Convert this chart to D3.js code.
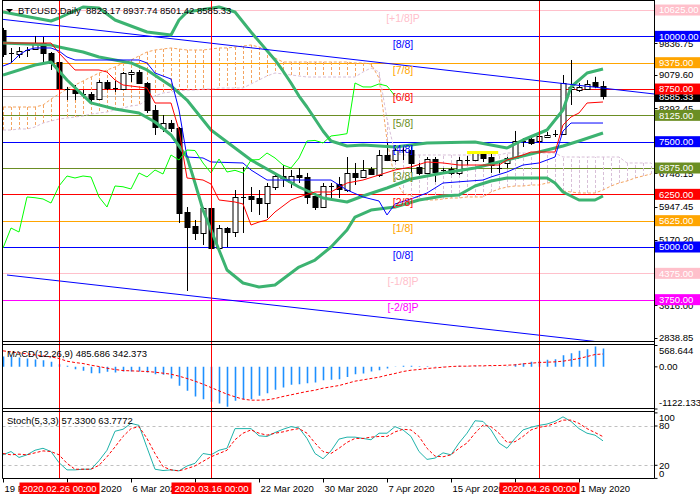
<!DOCTYPE html>
<html><head><meta charset="utf-8">
<script src="https://cdn.jsdelivr.net/npm/d3@7"></script>
<style>
body{margin:0;background:#fff}
svg{display:block}
text{font-family:"Liberation Sans",Arial,sans-serif}
</style>
</head><body>
<svg id="c" width="700" height="500"></svg>
<script>
// ---------------- DATA ----------------
const dateTickIdx = [0,8,16,24,32,40,48,56,64,72];
// labels hidden under the marker boxes in the reference are left empty
const dateTickLabels = ["19 Feb 2020","27 Feb 2020","6 Mar 2020","","22 Mar 2020","30 Mar 2020","7 Apr 2020","15 Apr 2020","","1 May 2020"];
const markerIdx = [7,26,67];
const markerLabels = ["2020.02.26 00:00","2020.03.16 00:00","2020.04.26 00:00"];

const opens = [10151,9605,9581,9665,9700,9842,9605,9391,8760,8727, 8645,8632,8513,8917,8774,8750,9107,9154,8893,8252, 7825,7943,7825,5831,5498,5332,5926,4976,5451,5356, 6187,6211,6163,6044,6424,6685,6543,6709,6662,6211, 5949,6448,6495,6353,6757,6662,6851,6709,7184,7065, 7302,7302,6899,6757,7089,6830,6851,6757,7065,7065, 7208,7136,6890,6994,7113,7516,7564,7516,7611,7682, 7682,8760,8727,8750,8917,8823.17];
const highs = [10200,9724,9747,9747,10009,9985,9629,9439,8800,8845, 8727,8679,8964,8964,8940,9154,9202,9202,8917,8371, 8133,8015,7848,5949,5641,5949,5949,5522,5475,6353, 6899,6424,6353,6519,6757,6946,6828,6875,6757,6282, 6519,6519,6662,7136,6994,7065,6899,7302,7469,7421, 7421,7421,6994,7136,7136,6875,6899,7136,7160,7279, 7231,7208,6994,7136,7754,7587,7659,7706,7730,7777, 9083,9439,8893,8960,9040,8937.74];
const lows = [9510,9368,9486,9510,9676,9391,9202,8750,8489,8489, 8537,8418,8489,8727,8679,8727,8917,8870,8181,7659, 7730,7730,5570,3956,5166,5047,4930,4858,5000,5237, 5332,5831,5760,5688,6353,6424,6400,6519,6021,5878, 5926,6163,6163,6306,6472,6640,6709,6662,7040,7018, 7065,6757,6709,6740,6543,6757,6709,6709,6946,7040, 7018,6757,6757,6875,7089,7374,7421,7490,7587,7611, 7659,8371,8680,8740,8770,8501.42];
const closes = [9581,9590,9653,9676,9842,9605,9368,8774,8745,8656, 8632,8513,8917,8774,8760,9130,9154,8893,8252,7848, 7943,7825,5807,5475,5332,5926,4976,5451,5356,6187, 6170,6140,6044,6448,6685,6638,6685,6662,6187,5949, 6448,6430,6377,6757,6662,6828,6733,7184,7065,7302, 7290,6994,6757,7089,6780,6820,6757,7065,7075,7231, 7113,6946,6875,7113,7516,7530,7469,7635,7659,7690, 8893,8800,8798,8870,8822,8585.33];

// Bollinger bands [bar, price]
const bbUpper = [[0,10578],[2,10507],[6,10365],[7,10436],[10,10697],[12,10673],[14,10388],[17,10175],[18,10103],[21,10032],[22,10388],[23,10578],[27,10697],[29,10578],[31,10103],[34,9439],[35,9178],[36,8893],[37,8584],[38,8323],[39,8038],[40,7754],[41,7516],[43,7397],[45,7421],[49,7374],[53,7469],[59,7492],[63,7350],[65,7540],[68,7777],[70,8252],[71,8798],[73,9130],[75,9225]];
const bbMiddle = [[0,9842],[6,9795],[7,9747],[10,9629],[12,9510],[16,9368],[18,9202],[21,8822],[23,8489],[26,7777],[28,7492],[31,7065],[37,6424],[40,6163],[43,6068],[45,6211],[48,6400],[51,6614],[55,6757],[59,6875],[63,7065],[67,7255],[70,7397],[72,7516],[75,7706]];
const bbLower = [[0,9083],[4,9320],[6,9391],[8,8964],[11,8420],[14,8276],[17,8181],[19,7967],[21,7659],[23,7136],[24,6519],[25,5878],[27,4929],[28,4454],[30,4145],[32,4051],[34,4098],[37,4525],[39,4691],[41,5000],[43,5404],[44,5712],[46,5878],[49,5949],[52,6116],[55,6211],[57,6234],[59,6448],[61,6567],[63,6638],[68,6638],[69,6519],[70,6306],[72,6116],[74,6116],[75,6211]];

// Ichimoku [bar, price]
const tenkan = [[0,9842],[6,9842],[7,9605],[9,9202],[12,9202],[13,9154],[14,8964],[15,8845],[18,8774],[19,8418],[21,8418],[22,7777],[23,6638],[25,6590],[26,6495],[27,6116],[29,6068],[30,6021],[31,5522],[32,5593],[33,5641],[34,5831],[35,5973],[36,6116],[37,6187],[39,6306],[41,6306],[43,6519],[45,6590],[47,6709],[49,6828],[51,6899],[53,7018],[55,6994],[57,6946],[62,6946],[63,7065],[65,7184],[66,7255],[69,7255],[70,7896],[71,8086],[72,8181],[73,8418],[75,8442]];
const kijun = [[0,9296],[1,9368],[2,9558],[3,9676],[4,9724],[6,9724],[7,9653],[8,9510],[9,9439],[17,9439],[18,9368],[19,9130],[21,8988],[22,8252],[23,7136],[25,7113],[26,7018],[30,6994],[31,6828],[33,6590],[41,6590],[43,6353],[45,6187],[47,6092],[48,5760],[49,6021],[51,6140],[53,6282],[55,6519],[60,6590],[61,6662],[63,6780],[65,6946],[67,6994],[68,7065],[69,7136],[70,7754],[71,7943],[75,7943]];
const chikouShift = 26;
// Senkou spans per bar (bars 0..81, cloud projected ahead)
const senkouA = [8323,8323,8323,8323,8323,8370,8510,8632,8750,8845, 8940,9035,9130,9200,9273,9368,9439,9534,9629,9676, 9700,9724,9700,9676,9676,9676,9700,9724,9724,9747, 9771,9795,9747,9676,9486,9391,9391,9391,9391,9391, 9391,9391,9391,9391,9368,9368,9344,9012,7540,6590, 6282,6211,6163,6116,6116,6140,6163,6163,6187,6187, 6187,6306,6377,6424,6448,6448,6472,6472,6519,6543, 6329,6306,6282,6282,6282,6353,6448,6519,6567,6638, 6685,6733];
const senkouB = [7777,7777,7801,7801,7848,7943,7991,8038,8062,8086, 8110,8157,8181,8204,8252,8299,8347,8371,8489,8584, 8656,8679,8703,8727,8727,8750,8750,8774,8774,8774, 8774,8869,8964,9059,9130,9107,9083,9059,9035,9035, 9035,9035,9035,9035,9035,9154,9249,9154,8038,7231, 7184,7184,7184,7184,7184,7184,7184,7184,7184,7184, 7184,7184,7184,7231,7231,7231,7231,7231,7231,7231, 7136,7136,7136,7136,7136,7136,7136,7136,6994,6994, 6994,6994];

// Murrey Math levels
const mmPrices = [10625,10000,9375,8750,8125,7500,6875,6250,5625,5000,4375,3750];
const mmNames = ["[+1/8]P","[8/8]","[7/8]","[6/8]","[5/8]","[4/8]","[3/8]","[2/8]","[1/8]","[0/8]","[-1/8]P","[-2/8]P"];

// trend lines [bar, price]
const trendUpper = [[-0.4,10412],[81.4,8632]];
const trendLower = [[0.5,4335],[74,2757]];
const yellowSeg = [[58,7243],[61.9,7243]];

const priceTicks = [9836.75, 9079.60, 8292.45, 6748.15, 5947.45, 5170.20, 3616.00, 2838.85];
const lastPrice = 8585.33;
const header = "BTCUSD,Daily  8823.17 8937.74 8501.42 8585.33";

// MACD
const macdMain = [275,275,248,222,195,177,133,70,27,-62, -106,-168,-168,-133,-150,-124,-124,-124,-150,-195, -213,-310,-505,-638,-789,-860,-930,-976,-1060,-905, -860,-860,-772,-700,-612,-550,-479,-461,-435,-417, -355,-346,-328,-270,-195,-177,-124,-89,-44,-5, 27,27,18,18,9,9,5,27,9,18, 9,-5,0,9,72,98,133,160,186,205, 311,364,426,470,540,485.686];
const macdSignal = [426,399,373,346,319,293,266,222,151,115, 89,44,9,-35,-71,-98,-106,-115,-124,-142, -169,-195,-248,-310,-381,-461,-550,-639,-727,-798, -860,-887,-887,-878,-843,-789,-745,-700,-656,-621, -568,-532,-497,-440,-381,-346,-310,-275,-222,-177, -124,-89,-71,-44,-27,-9,9,18,18,27, 27,35,35,44,53,80,98,115,124,133, 151,186,222,275,328,342.373];
const macdRange = [-1122.133, 568.644];
const macdTicks = [568.644, 0, -1122.133];
const macdTickLabels = ["568.644","0.00","-1122.133"];
const macdTitle = "MACD(12,26,9) 485.686 342.373";

// Stochastic
const stochMain = [36,41,32,36,43,46,41,24,13,13, 14,14,27,43,72,75,84,81,47,14, 12,13,11.5,19,23,38,36,43,46,76, 76,76,65,64,70,75,79,77,61,38, 30,42,60,63,63,61,59,69,69,79, 74,64,41,29,31,39,36,54,69,88, 87,74,54,46,61,74,78,81,83,87, 94,87,76,69,66,57.33];
const stochSignal = [38,36,37,36,39,42,41,36,23,14, 14,14,20,33,48,64,76,79,61,38, 18,13,11.5,15,19,26,33,38,43,59, 69,74,69,66,69,71,74,76,69,54, 41,38,46,55,61,61,63,64,64,71, 75,74,64,46,34,33,36,46,54,69, 81.5,79,69,55,56,64,74,78,80,84, 89,89,84,76,70,63.7772];
const stochLevels = [80,20];
const stochTicks = [100,80,20,0];
const stochTitle = "Stoch(5,3,3) 57.3300 63.7772";

// ---------------- STYLES ----------------
const mmColor = {"[+1/8]P":"#FFC0CB","[8/8]":"#0000FF","[7/8]":"#FFA500","[6/8]":"#FF0000","[5/8]":"#6B8E23","[4/8]":"#0000FF","[3/8]":"#6B8E23","[2/8]":"#FF0000","[1/8]":"#FFA500","[0/8]":"#0000FF","[-1/8]P":"#FFC0CB","[-2/8]P":"#FF00FF"};
const FS = 9.5;

// ---------------- LAYOUT / SCALES ----------------
const L = 2.5, R = 654.5;
const main = {top:0, bottom:341.5};
const macdP = {top:344.5, bottom:408.5};
const stochP = {top:411.5, bottom:478.5};

const x = d3.scaleLinear().domain([0, 81.375]).range([3, 654]);
const yP = d3.scaleLinear().domain([2745, 10863]).range([342, 0]);
const yM = d3.scaleLinear().domain(macdRange).range([409, 345.5]);
const yS = d3.scaleLinear().domain([0,100]).range([478.4, 412.9]);

const svg = d3.select("#c");
svg.append("rect").attr("width",700).attr("height",500).attr("fill","#fff");
const defs = svg.append("defs");
function clip(id, y0, y1){
  defs.append("clipPath").attr("id",id).append("rect")
    .attr("x",L+0.5).attr("y",y0).attr("width",R-L-1).attr("height",y1-y0);
}
clip("cm", 0.5, main.bottom);
clip("cmacd", macdP.top+0.5, macdP.bottom);
clip("cst", stochP.top+0.5, stochP.bottom);

const lineP = d3.line().x(d=>x(d[0])).y(d=>yP(d[1]));

// ---------------- MAIN PANEL ----------------
const gm = svg.append("g").attr("clip-path","url(#cm)");

mmPrices.forEach((p,k)=>{
  const yy = Math.round(yP(p))+0.5;
  gm.append("line").attr("x1",L).attr("x2",R).attr("y1",yy).attr("y2",yy)
    .attr("stroke",mmColor[mmNames[k]]).attr("stroke-width",1);
});
{
  const yy = Math.round(yP(lastPrice))+0.5;
  gm.append("line").attr("x1",L).attr("x2",R).attr("y1",yy).attr("y2",yy)
    .attr("stroke","#C0C0C0").attr("stroke-width",1);
}

// Kumo hatching
senkouA.forEach((a,i)=>{
  const b = senkouB[i];
  const xx = Math.round(x(i))+0.5;
  gm.append("line").attr("x1",xx).attr("x2",xx).attr("y1",yP(a)).attr("y2",yP(b))
    .attr("stroke", a>=b ? "#F4A460" : "#D8BFD8").attr("stroke-width",1)
    .attr("stroke-dasharray","3,2");
});
gm.append("path").datum(senkouA.map((v,i)=>[i,v])).attr("d",lineP)
  .attr("fill","none").attr("stroke","#F4A460").attr("stroke-dasharray","3,2");
gm.append("path").datum(senkouB.map((v,i)=>[i,v])).attr("d",lineP)
  .attr("fill","none").attr("stroke","#D8BFD8").attr("stroke-dasharray","3,2");

// candles
const candles = opens.map((o,i)=>({i,o,h:highs[i],l:lows[i],c:closes[i]}));
const gc = gm.append("g");
candles.forEach(d=>{
  const cx = Math.round(x(d.i))+0.5;
  gc.append("line").attr("x1",cx).attr("x2",cx).attr("y1",yP(d.h)).attr("y2",yP(d.l))
    .attr("stroke","#000").attr("stroke-width",1);
  const yt = yP(Math.max(d.o,d.c)), yb = yP(Math.min(d.o,d.c));
  if (yb-yt < 1.2){
    const yy = Math.round((yt+yb)/2)+0.5;
    gc.append("line").attr("x1",cx-2.5).attr("x2",cx+2.5).attr("y1",yy).attr("y2",yy)
      .attr("stroke","#000");
  } else {
    gc.append("rect").attr("x",cx-2.5).attr("width",5)
      .attr("y",Math.round(yt)+0.5).attr("height",Math.max(1,Math.round(yb)-Math.round(yt)))
      .attr("fill", d.c<d.o ? "#000" : "#fff").attr("stroke","#000").attr("stroke-width",1);
  }
});

// Bollinger bands
[bbUpper,bbMiddle,bbLower].forEach(arr=>{
  gm.append("path").datum(arr).attr("d",lineP).attr("fill","none")
    .attr("stroke","#3CB371").attr("stroke-width",3).attr("stroke-linejoin","round");
});

// Ichimoku lines
gm.append("path").datum(tenkan).attr("d",lineP).attr("fill","none").attr("stroke","#FF0000").attr("stroke-width",1);
gm.append("path").datum(kijun).attr("d",lineP).attr("fill","none").attr("stroke","#0000FF").attr("stroke-width",1);
const chikou = closes.slice(chikouShift).map((c,k)=>[k,c]);
gm.append("path").datum(chikou).attr("d",lineP).attr("fill","none").attr("stroke","#00FF00").attr("stroke-width",1);

// trend lines
[trendUpper,trendLower].forEach(t=>{
  gm.append("path").datum(t).attr("d",lineP).attr("fill","none").attr("stroke","#0000FF").attr("stroke-width",1);
});
gm.append("path").datum(yellowSeg).attr("d",lineP).attr("fill","none").attr("stroke","#FFFF00").attr("stroke-width",3);

// Murrey labels
mmPrices.forEach((p,k)=>{
  gm.append("text").attr("x",403).attr("y",yP(p)+8).attr("dy","0.35em")
    .attr("text-anchor","middle").attr("font-size",10.5)
    .attr("fill",mmColor[mmNames[k]]).text(mmNames[k]);
});

// ---------------- MACD ----------------
const gmc = svg.append("g").attr("clip-path","url(#cmacd)");
macdMain.forEach((v,i)=>{
  const xx = Math.round(x(i))+0.5;
  gmc.append("line").attr("x1",xx).attr("x2",xx).attr("y1",yM(0)).attr("y2",yM(v))
    .attr("stroke","#1E90FF").attr("stroke-width",1.6);
});
gmc.append("path").datum(macdSignal).attr("fill","none").attr("stroke","#FF0000").attr("stroke-width",1)
  .attr("stroke-dasharray","3,2")
  .attr("d",d3.line().x((d,i)=>x(i)).y(d=>yM(d)));

// ---------------- STOCH ----------------
const gs = svg.append("g").attr("clip-path","url(#cst)");
stochLevels.forEach(v=>{
  const yy = Math.round(yS(v))+0.5;
  gs.append("line").attr("x1",L).attr("x2",R).attr("y1",yy).attr("y2",yy)
    .attr("stroke","#C0C0C0").attr("stroke-dasharray","3,3");
});
gs.append("path").datum(stochMain).attr("fill","none").attr("stroke","#20B2AA").attr("stroke-width",1)
  .attr("d",d3.line().x((d,i)=>x(i)).y(d=>yS(d)));
gs.append("path").datum(stochSignal).attr("fill","none").attr("stroke","#FF0000").attr("stroke-width",1)
  .attr("stroke-dasharray","3,2")
  .attr("d",d3.line().x((d,i)=>x(i)).y(d=>yS(d)));

// ---------------- MARKER V-LINES ----------------
markerIdx.forEach(i=>{
  const xx = Math.round(x(i))+0.5;
  svg.append("line").attr("x1",xx).attr("x2",xx).attr("y1",0).attr("y2",stochP.bottom)
    .attr("stroke","#FF0000").attr("stroke-width",1);
});

// ---------------- FRAMES ----------------
const fr = svg.append("g").attr("stroke","#000").attr("stroke-width",1);
[0.5, main.bottom, macdP.top, macdP.bottom, stochP.top, stochP.bottom].forEach(yy=>{
  fr.append("line").attr("x1",L).attr("x2",R).attr("y1",yy).attr("y2",yy);
});
fr.append("line").attr("x1",L).attr("x2",L).attr("y1",0).attr("y2",stochP.bottom);
fr.append("line").attr("x1",R).attr("x2",R).attr("y1",0).attr("y2",stochP.bottom);

// ---------------- TITLES ----------------
svg.append("path").attr("d","M6,9 L13,9 L9.5,12.5 Z").attr("fill","#000");
svg.append("text").attr("x",18).attr("y",14).attr("font-size",FS).attr("fill","#000")
  .style("white-space","pre").text(header);
svg.append("text").attr("x",7).attr("y",357).attr("font-size",FS).attr("fill","#000").text(macdTitle);
svg.append("text").attr("x",7).attr("y",424).attr("font-size",FS).attr("fill","#000").text(stochTitle);

// ---------------- RIGHT AXES ----------------
const ax = svg.append("g");
priceTicks.forEach(p=>{
  const yy = yP(p);
  ax.append("line").attr("x1",R).attr("x2",R+3).attr("y1",Math.round(yy)+0.5).attr("y2",Math.round(yy)+0.5).attr("stroke","#000");
  ax.append("text").attr("x",659).attr("y",yy).attr("dy","0.35em").attr("font-size",FS).attr("fill","#000").text(p.toFixed(2));
});
{
  const yy = yP(lastPrice);
  ax.append("rect").attr("x",655).attr("y",yy-5).attr("width",45).attr("height",11).attr("fill","#000");
  ax.append("text").attr("x",659).attr("y",yy+0.5).attr("dy","0.35em").attr("font-size",FS).attr("fill","#fff").text(lastPrice.toFixed(2));
}
mmPrices.forEach((p,k)=>{
  const yy = yP(p);
  ax.append("rect").attr("x",655).attr("y",yy-5.5).attr("width",45).attr("height",11).attr("fill",mmColor[mmNames[k]]);
  ax.append("text").attr("x",659).attr("y",yy).attr("dy","0.35em").attr("font-size",FS).attr("fill","#fff").text(p.toFixed(2));
});
function clampY(v, top, bot){ return Math.max(top+6, Math.min(bot-6, v)); }
macdTicks.forEach((v,k)=>{
  const yy = yM(v);
  ax.append("line").attr("x1",R).attr("x2",R+3).attr("y1",yy).attr("y2",yy).attr("stroke","#000");
  ax.append("text").attr("x",659).attr("y",clampY(yy,macdP.top,macdP.bottom)).attr("dy","0.35em")
    .attr("font-size",FS).attr("fill","#000").text(macdTickLabels[k]);
});
stochTicks.forEach(v=>{
  const yy = yS(v);
  ax.append("line").attr("x1",R).attr("x2",R+3).attr("y1",yy).attr("y2",yy).attr("stroke","#000");
  ax.append("text").attr("x",659).attr("y",clampY(yy,stochP.top,stochP.bottom+1)).attr("dy","0.35em")
    .attr("font-size",FS).attr("fill","#000").text(String(v));
});

// ---------------- BOTTOM AXIS ----------------
dateTickIdx.forEach((i,k)=>{
  const xx = Math.round(x(i))+0.5;
  ax.append("line").attr("x1",xx).attr("x2",xx).attr("y1",stochP.bottom).attr("y2",stochP.bottom+4).attr("stroke","#000");
  if (dateTickLabels[k]) {
    ax.append("text").attr("x",xx+1).attr("y",492).attr("font-size",FS).attr("fill","#000").text(dateTickLabels[k]);
  }
});
markerIdx.forEach((i,k)=>{
  const xx = Math.round(x(i))+0.5;
  ax.append("rect").attr("x",xx-40).attr("y",482.5).attr("width",80).attr("height",11.5).attr("fill","#FF0000");
  ax.append("text").attr("x",xx).attr("y",492).attr("text-anchor","middle").attr("font-size",FS).attr("fill","#fff").text(markerLabels[k]);
});
</script>
</body></html>
